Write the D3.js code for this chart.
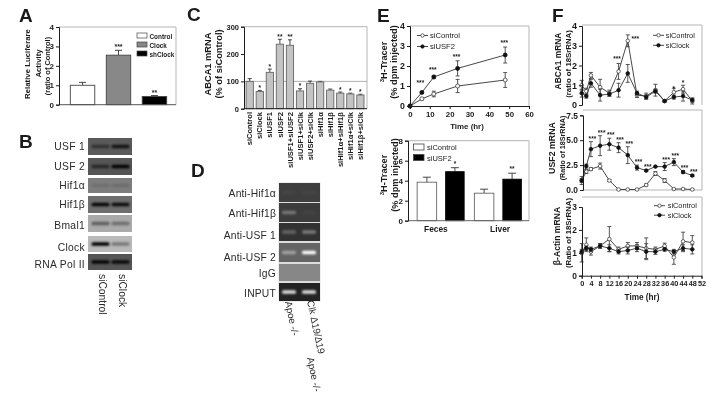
<!DOCTYPE html>
<html><head><meta charset="utf-8">
<script src="https://cdnjs.cloudflare.com/ajax/libs/d3/7.9.0/d3.min.js"></script>
<style>html,body{margin:0;padding:0;background:#fff}svg{display:block;filter:blur(0.35px)}text{font-family:"Liberation Sans",Arial,sans-serif;fill:#1a1a1a}</style>
</head><body><div id="c"></div>
<script>
// Panel A
const aCats=["Control","Clock","shClock"];
const aVals=[1.0,2.55,0.42];
const aErr=[0.15,0.25,0.05];
const aStars=["","***","**"];
const aTicks=[0,1,2,3,4];
// Panel B
const bLabels=["USF 1","USF 2","Hif1α","Hif1β","Bmal1","Clock","RNA  Pol II"];
const bLanes=["siControl","siClock"];
const bBg=[90,85,125,110,170,185,85];
const bLeft=[0.45,0.55,0.1,0.95,0.45,1.0,0.95];
const bRight=[0.8,1.0,0.12,0.9,0.35,0.35,0.9];
// Panel C
const cCats=["siControl","siClock","siUSF1","siUSF2","siUSF1+siUSF2","siUSF1+siClk","siUSF2+siClk","siHif1α","siHif1β","siHif1α+siHif1β","siHif1α+siClk","siHif1β+siClk"];
const cVals=[100,63,133,236,232,65,93,98,68,57,54,50];
const cErr=[10,4,12,18,20,8,8,2,4,4,3,3];
const cStars=["","*","*","**","**","*","","","","*","*","*"];
const cTicks=[0,100,200,300];
// Panel D
const dLabels=["Anti-Hif1α","Anti-Hif1β","Anti-USF 1","Anti-USF 2","IgG","INPUT"];
const dBg=[62,60,50,100,135,35];
const dLeft=[0.03,0.3,0.25,0.4,0,0.85];
const dRight=[0.03,0.03,0.35,1.0,0,0.85];
// Panel E top
const eHours=[0,6,12,24,48];
const eCtrl=[0,0.36,0.6,1.0,1.3];
const eCtrlErr=[0,0.05,0.14,0.33,0.37];
const eUsf=[0,0.68,1.45,1.88,2.55];
const eUsfErr=[0,0.05,0.08,0.38,0.4];
const eStars=["","***","***","***","***"];
const eTicksY=[0,1,2,3,4];
const eTicksX=[0,10,20,30,40,50,60];
// Panel E bottom
const e2Groups=["Feces","Liver"];
const e2Ctrl=[3.85,2.75];
const e2CtrlErr=[0.5,0.4];
const e2Usf=[4.9,4.15];
const e2UsfErr=[0.4,0.6];
const e2Stars=["*","**"];
const e2Ticks=[0,2,4,6,8];
// Panel F
const fHours=[0,2,4,8,12,16,20,24,28,32,36,40,44,48];
const fTicksX=[0,4,8,12,16,20,24,28,32,36,40,44,48,52];
const f1Ctrl=[1.0,0.7,1.5,0.9,0.6,1.7,3.25,0.5,0.45,0.75,0.2,0.65,0.8,0.2];
const f1CtrlErr=[0.25,0.15,0.15,0.4,0.15,0.4,0.3,0.12,0.15,0.3,0.05,0.2,0.2,0.15];
const f1Clk=[0.6,0.45,1.1,0.5,0.55,0.75,1.6,0.6,0.4,0.7,0.2,0.4,0.45,0.25];
const f1ClkErr=[0.2,0.1,0.2,0.3,0.1,0.35,0.45,0.1,0.1,0.1,0.05,0.1,0.25,0.1];
const f1Stars=["","","","","","***","***","","","","","*","*",""];
const f2Ctrl=[0.95,1.85,2.1,2.4,0.95,0.05,0.05,0.05,0.5,1.65,0.95,0.1,0.1,0.05];
const f2CtrlErr=[0.4,0.2,0.15,0.3,0.1,0.03,0.03,0.03,0.1,0.2,0.2,0.05,0.05,0.03];
const f2Clk=[0.95,2.4,4.1,4.45,4.6,4.25,3.5,2.25,1.95,2.35,2.35,2.8,1.8,1.45];
const f2ClkErr=[0.2,0.2,0.75,1.0,0.6,0.5,0.85,0.25,0.1,0.05,0.4,0.35,0.15,0.1];
const f2Stars=["","","***","***","***","***","***","***","***","","***","***","***","***"];
const f3Ctrl=[1.0,1.35,1.05,1.3,1.6,1.15,1.3,1.3,1.2,1.15,1.3,0.8,1.5,1.45];
const f3CtrlErr=[0.4,0.3,0.15,0.1,0.55,0.1,0.15,0.15,0.45,0.1,0.12,0.3,0.4,0.3];
const f3Clk=[1.05,1.2,1.15,1.3,1.2,1.05,1.1,1.2,1.05,1.05,1.15,1.05,1.2,1.15];
const f3ClkErr=[0.1,0.1,0.1,0.1,0.15,0.1,0.15,0.15,0.35,0.12,0.08,0.1,0.15,0.2];
const legendF=["siControl","siClock"];
const legendE=["siControl","siUSF2"];

const INK="#1c1c1c", GRAY="#b5b5b5";
const svg=d3.select("#c").append("svg").attr("width",713).attr("height",403).attr("viewBox","0 0 713 403");
const defs=svg.append("defs");
defs.append("filter").attr("id","bl").attr("x","-30%").attr("y","-100%").attr("width","160%").attr("height","300%")
  .append("feGaussianBlur").attr("stdDeviation","1.1 0.8");

function text(x,y,s,size,opt={}){
  const t=svg.append("text").attr("x",x).attr("y",y).text(s).attr("font-size",size)
   .attr("font-weight",opt.w||"bold").attr("text-anchor",opt.a||"start");
  if(opt.rot!==undefined)t.attr("transform",`rotate(${opt.rot},${x},${y})`);
  if(opt.ls)t.attr("letter-spacing",opt.ls);
  if(opt.fill)t.style("fill",opt.fill);
  return t;
}
function letter(s,x,y){text(x,y,s,19);}
function frame(x0,x1,yTop,yBot){
  svg.append("path").attr("d",`M${x0},${yTop}H${x1}V${yBot}`).attr("fill","none").attr("stroke",GRAY).attr("stroke-width",1);
}
function axisY(x,y,ticks,size,fmt){
  const g=svg.append("g").attr("transform",`translate(${x},0)`)
    .call(d3.axisLeft(y).tickValues(ticks).tickSize(3).tickPadding(2).tickFormat(fmt||d3.format("d")));
  g.selectAll("path,line").attr("stroke",INK);
  g.selectAll("text").attr("font-size",size).attr("font-weight","bold").attr("font-family",'"Liberation Sans",Arial,sans-serif');
  return g;
}
function axisX(yPos,x,ticks,size,pad){
  const g=svg.append("g").attr("transform",`translate(0,${yPos})`)
    .call(d3.axisBottom(x).tickValues(ticks).tickSize(3).tickPadding(pad||2).tickFormat(d3.format("d")));
  g.selectAll("path,line").attr("stroke",INK);
  g.selectAll("text").attr("font-size",size).attr("font-weight","bold").attr("font-family",'"Liberation Sans",Arial,sans-serif');
  return g;
}
function err(x,y0,y1,cap,col){
  svg.append("path").attr("d",`M${x},${y0}V${y1}M${x-cap},${y1}H${x+cap}`).attr("fill","none").attr("stroke",col||"#333").attr("stroke-width",0.9);
}
function bar(x,w,y0,y1,fill,stroke){
  svg.append("rect").attr("x",x-w/2).attr("width",w).attr("y",y1).attr("height",y0-y1).attr("fill",fill).attr("stroke",stroke||"#444").attr("stroke-width",0.9);
}
function series(x,y,xs,vals,errs,filled,r){
  const line=d3.line().x((d,i)=>x(xs[i])).y(d=>y(d));
  vals.forEach((v,i)=>{ if(errs&&errs[i]>0){
    err(x(xs[i]),y(v),y(v+errs[i]),2,"#444"); err(x(xs[i]),y(v),y(v-errs[i]),2,"#444"); }});
  svg.append("path").datum(vals).attr("d",line).attr("fill","none").attr("stroke","#333").attr("stroke-width",0.9);
  svg.selectAll(null).data(vals).enter().append("circle").attr("cx",(d,i)=>x(xs[i])).attr("cy",d=>y(d)).attr("r",r||1.8)
    .attr("fill",filled?"#111":"#fff").attr("stroke",filled?"#111":"#444").attr("stroke-width",0.8);
}
function lineLegend(x,y,names,dy,size,off){
  names.forEach((n,i)=>{
    const yy=y+i*dy;
    svg.append("line").attr("x1",x).attr("x2",x+11).attr("y1",yy).attr("y2",yy).attr("stroke","#333").attr("stroke-width",0.9);
    svg.append("circle").attr("cx",x+5.5).attr("cy",yy).attr("r",1.7).attr("fill",i?"#111":"#fff").attr("stroke",i?"#111":"#444").attr("stroke-width",0.8);
    text(x+off,yy+2.7,n,size,{w:"normal"});
  });
}

/* ---- A ---- */
letter("A",19,22);
{
  const y=d3.scaleLinear().domain([0,4]).range([104.7,27]);
  const x=d3.scaleBand().domain(aCats).range([66,171]).paddingInner(0.32).paddingOuter(0.12);
  frame(59,176,27,104.7);
  const fills=["#fff","#888","#000"];
  aCats.forEach((c,i)=>{
    const cx=x(c)+x.bandwidth()/2;
    err(cx,y(aVals[i]),y(aVals[i]+aErr[i]),3.5);
    bar(cx,x.bandwidth(),y(0),y(aVals[i]),fills[i]);
    text(cx,y(aVals[i]+aErr[i])-1,aStars[i],7,{a:"middle"});
    svg.append("rect").attr("x",137).attr("y",33+i*9).attr("width",10).attr("height",5).attr("fill",fills[i]).attr("stroke","#444").attr("stroke-width",0.7);
    text(149.5,38.5+i*9,c,6.4);
  });
  svg.append("line").attr("x1",59).attr("x2",176).attr("y1",y(0)).attr("y2",y(0)).attr("stroke","#555");
  axisY(59,y,aTicks,8);
  text(30,64,"Relative Luciferare",7.8,{a:"middle",rot:-90});
  text(40.5,63.5,"Activity",7.8,{a:"middle",rot:-90});
  text(50,66,"(ratio of Control)",7.4,{a:"middle",rot:-90});
}

/* ---- blots ---- */
function blot(x0,x1,y0,y1,bg,s,cxL,cxR,bw,mode){
  const base=d3.rgb(bg,bg,bg);
  svg.append("rect").attr("x",x0).attr("y",y0).attr("width",x1-x0).attr("height",y1-y0).attr("fill",base.formatHex());
  const clipId="cl"+Math.round(x0)+"_"+Math.round(y0);
  defs.append("clipPath").attr("id",clipId).append("rect").attr("x",x0).attr("y",y0).attr("width",x1-x0).attr("height",y1-y0);
  const g=svg.append("g").attr("clip-path",`url(#${clipId})`);
  [[cxL,s[0]],[cxR,s[1]]].forEach(([cx,a])=>{
    if(a<=0)return;
    g.append("rect").attr("x",cx-bw/2).attr("y",(y0+y1)/2-1.7).attr("width",bw).attr("height",3.4).attr("rx",1.5)
      .attr("fill",mode==="light"?"#fff":"#000").attr("opacity",a).attr("filter","url(#bl)");
  });
}
letter("B",19,148);
{
  const rows=[[138,155],[158,175],[178,193],[196,213],[215,232],[236,252],[254,270]];
  const yL=[151,170.5,189,208,229,250.5,268];
  bLabels.forEach((l,i)=>{
    blot(88,132,rows[i][0],rows[i][1],bBg[i],[bLeft[i],bRight[i]],100.5,120.5,18,"dark");
    text(85,yL[i]-(i<2?1:0),l,10.3,{w:"normal",a:"end",ls:0.3,fill:"#2a2a2a"});
  });
  bLanes.forEach((l,i)=>text(99+i*20,274,l,10.3,{w:"normal",rot:90,fill:"#2a2a2a"}));
}

/* ---- C ---- */
letter("C",187,21);
{
  const y=d3.scaleLinear().domain([0,300]).range([108.7,26.7]);
  const x=d3.scaleBand().domain(cCats).range([246.1,364]).paddingInner(0.28).paddingOuter(0);
  frame(244,367,26.7,108.7);
  svg.append("line").attr("x1",244).attr("x2",367).attr("y1",y(100)).attr("y2",y(100)).attr("stroke","#999").attr("stroke-width",0.8);
  cCats.forEach((c,i)=>{
    const cx=x(c)+x.bandwidth()/2;
    err(cx,y(cVals[i]),y(cVals[i]+cErr[i]),2);
    bar(cx,x.bandwidth(),y(0),y(cVals[i]),"#c4c4c4","#666");
    if(cStars[i])text(cx,y(cVals[i]+cErr[i])-0.5,cStars[i],6.5,{a:"middle"});
    text(cx+2.6,112,c,7.6,{a:"end",rot:-90});
  });
  svg.append("line").attr("x1",244).attr("x2",367).attr("y1",y(0)).attr("y2",y(0)).attr("stroke",INK);
  axisY(244,y,cTicks,7.5);
  text(211,64,"ABCA1 mRNA",9.3,{a:"middle",rot:-90});
  text(222,64,"(% of siControl)",9.3,{a:"middle",rot:-90});
}

/* ---- D ---- */
letter("D",191,177);
{
  const rows=[[183,202],[203,222],[223,241],[243,262],[264,281],[283,301]];
  const yL=[197,216.5,239,261,277,297];
  svg.append("rect").attr("x",278.5).attr("y",182.5).attr("width",42).attr("height",119).attr("fill","#ddd");
  dLabels.forEach((l,i)=>{
    blot(279,320,rows[i][0],rows[i][1],dBg[i],[dLeft[i],dRight[i]],289,309,14,"light");
    text(276,yL[i],l,10.3,{w:"normal",a:"end",ls:0.2,fill:"#2a2a2a"});
  });
  text(285,302,"Apoe -/-",9.8,{w:"normal",rot:78,fill:"#2a2a2a"});
  text(307,301,"Clk Δ19/Δ19",9.8,{w:"normal",rot:78,fill:"#2a2a2a"});
  text(307,358,"Apoe -/-",9.8,{w:"normal",rot:78,fill:"#2a2a2a"});
}

/* ---- E top ---- */
letter("E",377,22);
{
  const y=d3.scaleLinear().domain([0,4]).range([106,26]);
  const x=d3.scaleLinear().domain([0,60]).range([410,529]);
  frame(410,529,26,106);
  series(x,y,eHours,eCtrl,eCtrlErr,false,2);
  series(x,y,eHours,eUsf,eUsfErr,true,2);
  eHours.forEach((h,i)=>{ if(eStars[i]) text(x(h)-(i==1?1.5:1),y(eUsf[i]+eUsfErr[i])-(i==1?6:i==2?3:2),eStars[i],6.5,{a:"middle"}); });
  lineLegend(417,35.5,legendE,11,7.6,13);
  axisY(410,y,eTicksY,8.8);
  axisX(106,x,eTicksX,7.8);
  text(467,129,"Time (hr)",7.9,{a:"middle"});
  const t=text(386.5,62,"",9.2,{a:"middle",rot:-90});
  t.append("tspan").text("3").attr("font-size",6).attr("dy",-3);
  t.append("tspan").text("H-Tracer").attr("dy",3);
  text(396.5,62,"(% dpm injected)",9.2,{a:"middle",rot:-90});
}
/* ---- E bottom ---- */
{
  const y=d3.scaleLinear().domain([0,8]).range([220.7,140.7]);
  const x=d3.scaleBand().domain(e2Groups).range([414,525]).paddingInner(0.1).paddingOuter(0.02);
  frame(408,529,140.7,220.7);
  e2Groups.forEach((g,i)=>{
    const c=x(g)+x.bandwidth()/2;
    const cxs=[c-14,c+14];
    err(cxs[0],y(e2Ctrl[i]),y(e2Ctrl[i]+e2CtrlErr[i]),4);
    bar(cxs[0],19.5,y(0),y(e2Ctrl[i]),"#fff","#666");
    err(cxs[1],y(e2Usf[i]),y(e2Usf[i]+e2UsfErr[i]),4);
    bar(cxs[1],18.5,y(0),y(e2Usf[i]),"#000","#000");
    text(cxs[1],y(e2Usf[i]+e2UsfErr[i])-2,e2Stars[i],6.5,{a:"middle"});
    text(c+(i?2:-5),232,g,8.4,{a:"middle"});
  });
  svg.append("line").attr("x1",408).attr("x2",529).attr("y1",y(0)).attr("y2",y(0)).attr("stroke","#666");
  legendE.forEach((n,i)=>{
    svg.append("rect").attr("x",413.5).attr("y",144+i*10.5).attr("width",10.5).attr("height",6).attr("fill",i?"#000":"#fff").attr("stroke","#444").attr("stroke-width",0.8);
    text(427,150+i*10.5,n,7.5,{w:"normal"});
  });
  axisY(408,y,e2Ticks,8);
  const t=text(387,175,"",9.2,{a:"middle",rot:-90});
  t.append("tspan").text("3").attr("font-size",6).attr("dy",-3);
  t.append("tspan").text("H-Tracer").attr("dy",3);
  text(398,175,"(% dpm injected)",9.2,{a:"middle",rot:-90});
}

/* ---- F ---- */
letter("F",552,22);
const fx=d3.scaleLinear().domain([0,52]).range([581.7,701.5]);
{
  const y=d3.scaleLinear().domain([0,4]).range([105,26]);
  frame(582,702,25,105);
  series(fx,y,fHours,f1Ctrl,f1CtrlErr,false);
  series(fx,y,fHours,f1Clk,f1ClkErr,true);
  const starDx={16:-1.5,20:7.5,40:0,44:0}, starDy={16:-2.5,20:6,40:2.8,44:0};
  fHours.forEach((h,i)=>{
    if(!f1Stars[i])return;
    text(fx(h)+starDx[h],y(f1Ctrl[i]+f1CtrlErr[i])+starDy[h],f1Stars[i],6.5,{a:"middle"});
  });
  lineLegend(653,35.3,legendF,10,7.4,12.7);
  axisY(582,y,[0,1,2,3,4],9);
  text(560.5,61,"ABCA1 mRNA",8.4,{a:"middle",rot:-90});
  text(571,64,"(ratio of 18SrRNA)",7.8,{a:"middle",rot:-90});
}
{
  const y=d3.scaleLinear().domain([0,7.5]).range([190,115.3]);
  frame(583,702,110,190);
  svg.append("line").attr("x1",583).attr("x2",702).attr("y1",190).attr("y2",190).attr("stroke",GRAY);
  series(fx,y,fHours,f2Ctrl,f2CtrlErr,false);
  series(fx,y,fHours,f2Clk,f2ClkErr,true);
  fHours.forEach((h,i)=>{ if(f2Stars[i]) text(fx(h)+1.5,y(f2Clk[i]+f2ClkErr[i])-1,f2Stars[i],6.5,{a:"middle"}); });
  axisY(583,y,[0,2.5,5,7.5],8.4,d3.format(".1f"));
  text(555,148,"USF2 mRNA",8.8,{a:"middle",rot:-90});
  text(565,148,"(Ratio of 18SrRNA)",7.2,{a:"middle",rot:-90});
}
{
  const y=d3.scaleLinear().domain([0,3]).range([275.7,207]);
  frame(582,702,197,275.7);
  series(fx,y,fHours,f3Ctrl,f3CtrlErr,false);
  series(fx,y,fHours,f3Clk,f3ClkErr,true);
  lineLegend(654,205.7,legendF,9.5,7.4,13.7);
  axisY(582,y,[0,1,2,3],8.4);
  axisX(275.7,fx,fTicksX,7.3);
  text(642,300,"Time (hr)",8.2,{a:"middle"});
  text(560,236,"β-Actin mRNA",8.6,{a:"middle",rot:-90});
  text(570.5,233,"(Ratio of 18SrRNA)",7.8,{a:"middle",rot:-90});
}
</script></body></html>
